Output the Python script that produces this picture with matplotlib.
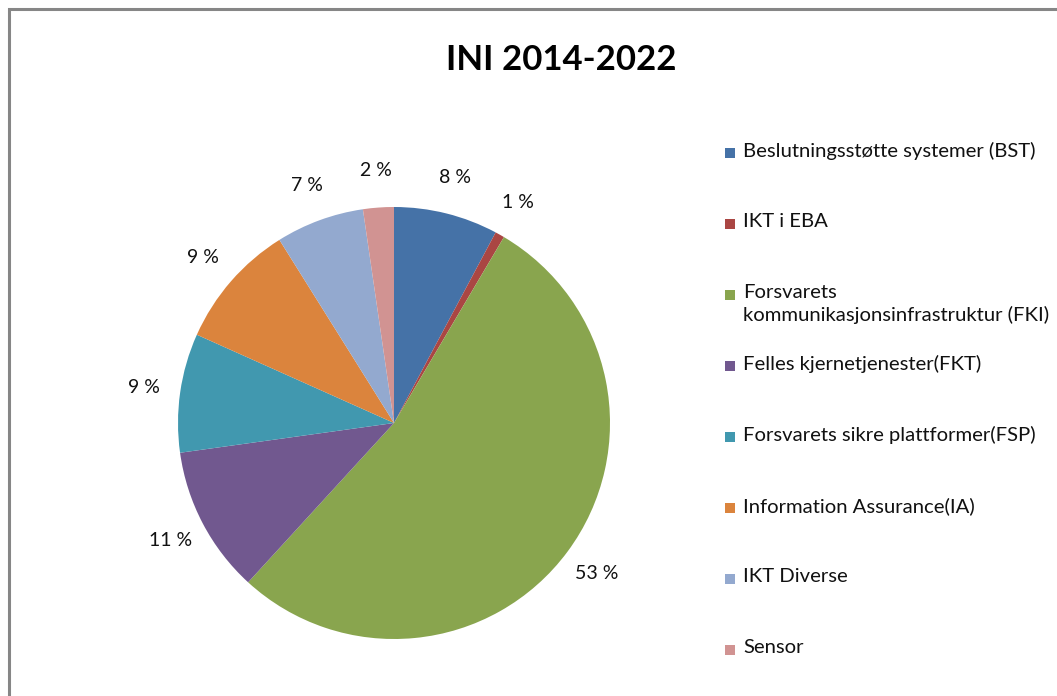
import matplotlib.pyplot as plt
from matplotlib.patches import Rectangle

categories = [
    "Beslutningsstøtte systemer (BST)",
    "IKT i EBA",
    "Forsvarets\nkommunikasjonsinfrastruktur (FKI)",
    "Felles kjernetjenester(FKT)",
    "Forsvarets sikre plattformer(FSP)",
    "Information Assurance(IA)",
    "IKT Diverse",
    "Sensor",
]
shares = [7.8, 0.7, 53.3, 11.0, 8.9, 9.4, 6.6, 2.3]
colors = ["#4572A7", "#AA4643", "#89A54E", "#71588F",
          "#4198AF", "#DB843D", "#93A9CF", "#D19392"]

plt.rcParams["font.family"] = ["Lato", "DejaVu Sans"]

W, H = 1057, 696
fig = plt.figure(figsize=(W / 100, H / 100), dpi=100)

# grey chart frame (right/bottom edges run off the picture)
fig.patches.append(Rectangle((9 / W, -0.1), 1.2, 1 - 9 / H + 0.1,
                             transform=fig.transFigure, fill=False,
                             edgecolor="#868686", linewidth=2.2))

# pie placed in its pixel box
cx, cy, r = 394, 423, 216
ax = fig.add_axes([(cx - r) / W, (H - cy - r) / H, 2 * r / W, 2 * r / H])
wedges, _, pcts = ax.pie(
    shares, colors=colors, startangle=90, counterclock=False,
    autopct=lambda p: f"{p:.0f} %", pctdistance=1.17,
    wedgeprops=dict(linewidth=0),
    textprops=dict(fontsize=14, color="#111111"),
)
ax.set_xlim(-1, 1)
ax.set_ylim(-1, 1)
ax.set_aspect("auto")

fig.text(561 / W, 1 - 60 / H, "INI 2014-2022", ha="center", va="center",
         fontsize=25, fontweight="bold", color="black")

# legend
y0, step = 153, 71
for i, (lab, col) in enumerate(zip(categories, colors)):
    y = y0 + i * step
    fig.patches.append(Rectangle((725 / W, 1 - (y + 5) / H), 10 / W, 10 / H,
                                 transform=fig.transFigure, facecolor=col,
                                 edgecolor="none"))
    fig.text(743 / W, 1 - (y - 11) / H, lab, ha="left", va="top",
             fontsize=14.6, color="#111111", linespacing=1.3)

fig.savefig("out.png", dpi=100)
